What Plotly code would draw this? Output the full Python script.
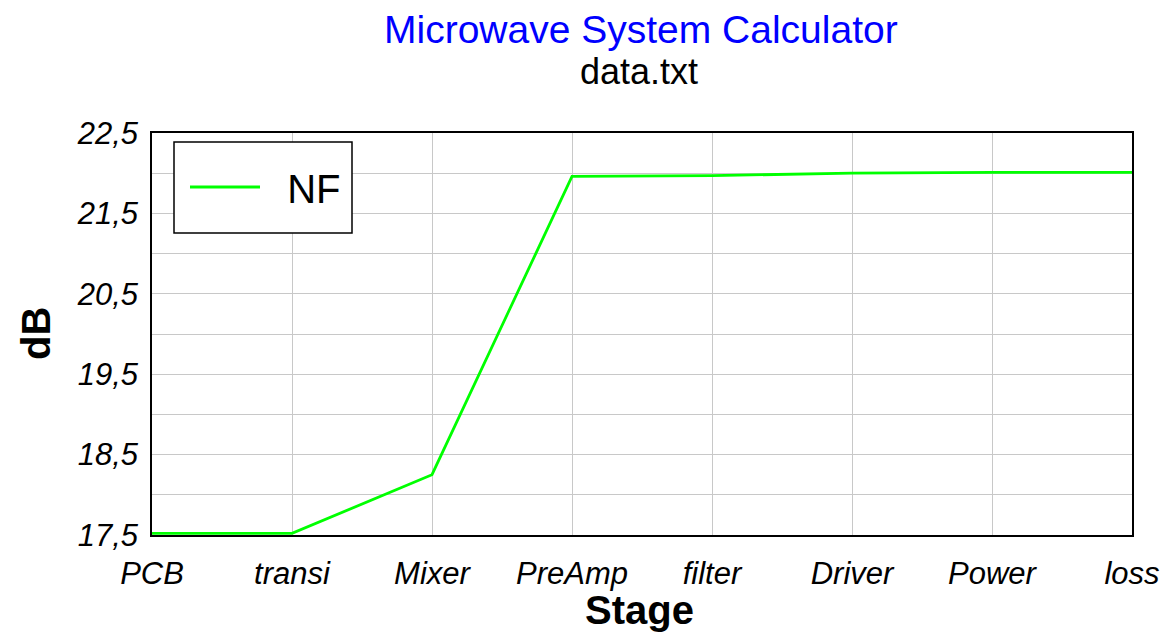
import plotly.graph_objects as go

# Etapas y figura de ruido acumulada (dB)
STAGES = ["PCB", "transi", "Mixer", "PreAmp", "filter", "Driver", "Power", "loss"]
NF_DB = [17.52, 17.52, 18.25, 21.96, 21.97, 22.0, 22.01, 22.01]

Y_MIN, Y_MAX = 17.5, 22.5

FONT = "Liberation Sans, Arial, sans-serif"

# la página deja 8 px de margen en el body: la figura ocupa 1160x627
W, H = 1160, 627
PLOT_L, PLOT_R, PLOT_T, PLOT_B = 152, 1132, 133, 535   # en píxeles de la ventana


def px(x):
    return (x - PLOT_L) / (PLOT_R - PLOT_L)


def py(y):
    return (PLOT_B - y) / (PLOT_B - PLOT_T)


fig = go.Figure()

fig.add_trace(go.Scatter(
    x=list(range(len(STAGES))), y=NF_DB,
    mode="lines", name="&nbsp;&nbsp;NF&nbsp;",
    line=dict(color="#00FF00", width=2.8),
))

fig.update_layout(
    width=W, height=H,
    margin=dict(l=PLOT_L - 8, r=W - (PLOT_R - 8), t=PLOT_T - 8, b=H - (PLOT_B - 8)),
    paper_bgcolor="white", plot_bgcolor="white",
    separators=",.",
    font=dict(family=FONT, color="black"),
    showlegend=True,
    legend=dict(
        x=px(185), y=py(187), xanchor="left", yanchor="middle",
        borderwidth=0, bgcolor="rgba(0,0,0,0)",
        font=dict(size=40),
        itemwidth=70,
    ),
)

# caja de la leyenda
fig.add_shape(type="rect", xref="paper", yref="paper",
              x0=px(174), x1=px(352), y0=py(233), y1=py(142),
              line=dict(color="black", width=1.5), fillcolor="white", layer="above")

# títulos
fig.add_annotation(text="Microwave System Calculator", xref="paper", yref="paper",
                   x=px(641), y=py(30), xanchor="center", yanchor="middle",
                   showarrow=False, font=dict(size=39, color="#0000FF"))
fig.add_annotation(text="data.txt", xref="paper", yref="paper",
                   x=px(639), y=py(72), xanchor="center", yanchor="middle",
                   showarrow=False, font=dict(size=36, color="black"))
fig.add_annotation(text="<b>Stage</b>", xref="paper", yref="paper",
                   x=px(639), y=py(610), xanchor="center", yanchor="middle",
                   showarrow=False, font=dict(size=40, color="black"))
fig.add_annotation(text="<b>dB</b>", xref="paper", yref="paper",
                   x=px(36), y=py(334), xanchor="center", yanchor="middle",
                   textangle=-90, showarrow=False, font=dict(size=40, color="black"))

fig.update_xaxes(
    tickmode="array",
    tickvals=list(range(len(STAGES))),
    ticktext=STAGES,
    range=[0, len(STAGES) - 1],
    tickfont=dict(size=31, style="italic"),
    ticklabelstandoff=10,
    showgrid=True, gridcolor="#c8c8c8", gridwidth=1,
    showline=True, linecolor="black", linewidth=1.5, mirror=True,
    zeroline=False, automargin=False,
)

fig.update_yaxes(
    range=[Y_MIN, Y_MAX],
    tick0=Y_MIN, dtick=1, tickformat=".1f",
    tickfont=dict(size=31, style="italic"),
    ticklabelstandoff=6,
    showgrid=True, gridcolor="#c8c8c8", gridwidth=1,
    minor=dict(dtick=0.5, tick0=Y_MIN, showgrid=True, gridcolor="#c8c8c8", gridwidth=1),
    showline=True, linecolor="black", linewidth=1.5, mirror=True,
    zeroline=False, automargin=False,
)

fig.write_html("out.html")
